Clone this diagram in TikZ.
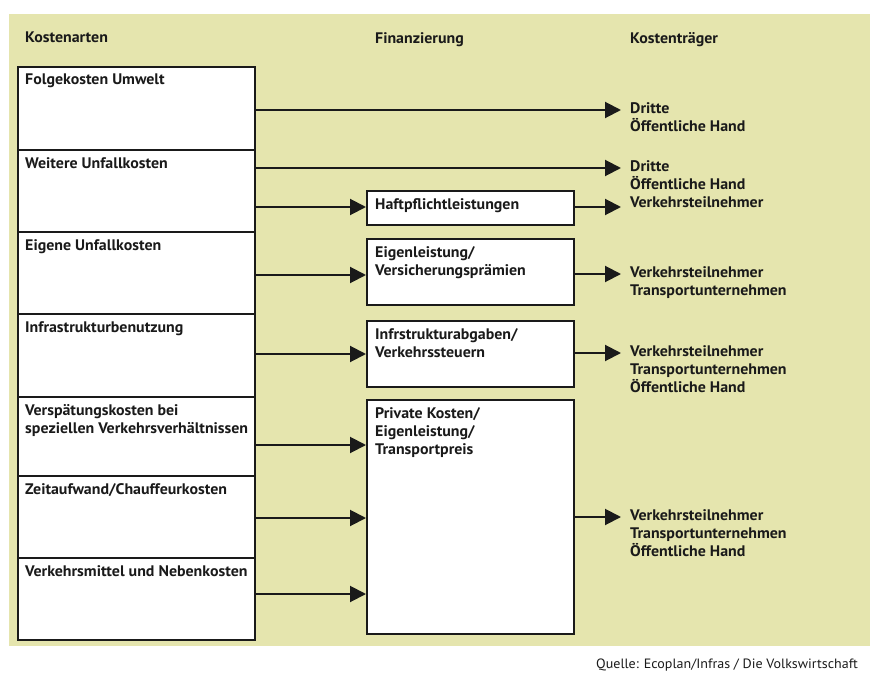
\documentclass[tikz,border=0pt]{standalone}
\usepackage{fontspec}
\setmainfont{PT Sans}[FakeStretch=1.04]
\usetikzlibrary{arrows.meta}
\definecolor{bg}{RGB}{229,229,174}
\definecolor{ink}{RGB}{26,26,26}
\begin{document}
\begin{tikzpicture}[x=1pt,y=-1pt,
  box/.style={draw=ink, line width=2pt, fill=white, inner sep=0pt, anchor=north west},
  lbl/.style={anchor=north west, inner sep=0pt, align=left, text=ink,
              font=\bfseries\fontsize{15.3}{18.2}\selectfont},
  arr/.style={draw=ink, line width=2pt, -{Triangle[length=16pt,width=16pt]}},
]
\useasboundingbox (0,0) rectangle (870,674);
\clip (0,0) rectangle (870,674);
\fill[bg] (9,14) rectangle (880,646);

% headers
\node[lbl] (h1) at (25,32) {Kostenarten};
\node[lbl] (h2) at (375,32) {Finanzierung};
\node[lbl] (h3) at (630,32) {Kostenträger};

% left boxes
\node[box, minimum width=237pt, minimum height=83pt] (a1) at (17,66) {};
\node[box, minimum width=237pt, minimum height=82pt] (a2) at (17,149) {};
\node[box, minimum width=237pt, minimum height=82pt] (a3) at (17,231) {};
\node[box, minimum width=237pt, minimum height=83pt] (a4) at (17,313) {};
\node[box, minimum width=237pt, minimum height=79pt] (a5) at (17,396) {};
\node[box, minimum width=237pt, minimum height=82pt] (a6) at (17,475) {};
\node[box, minimum width=237pt, minimum height=82pt] (a7) at (17,557) {};
\node[lbl] (ta1) at (25,74) {Folgekosten Umwelt};
\node[lbl] (ta2) at (25,157) {Weitere Unfallkosten};
\node[lbl] (ta3) at (25,239) {Eigene Unfallkosten};
\node[lbl] (ta4) at (25,321) {Infrastrukturbenutzung};
\node[lbl] (ta5) at (25,404) {Verspätungskosten bei\\speziellen Verkehrsverhältnissen};
\node[lbl] (ta6) at (25,483) {Zeitaufwand/Chauffeurkosten};
\node[lbl] (ta7) at (25,565) {Verkehrsmittel und Nebenkosten};

% middle boxes
\node[box, minimum width=207pt, minimum height=34pt] (m1) at (366,190) {};
\node[box, minimum width=207pt, minimum height=66pt] (m2) at (366,238) {};
\node[box, minimum width=207pt, minimum height=66pt] (m3) at (366,320) {};
\node[box, minimum width=207pt, minimum height=234pt] (m4) at (366,399) {};
\node[lbl] (tm1) at (375,198) {Haftpflichtleistungen};
\node[lbl] (tm2) at (375,246) {Eigenleistung/\\Versicherungsprämien};
\node[lbl] (tm3) at (375,328) {Infrstrukturabgaben/\\Verkehrssteuern};
\node[lbl] (tm4) at (375,407) {Private Kosten/\\Eigenleistung/\\Transportpreis};

% right texts
\node[lbl] (r1) at (630,102) {Dritte\\Öffentliche Hand};
\node[lbl] (r2) at (630,160) {Dritte\\Öffentliche Hand\\Verkehrsteilnehmer};
\node[lbl] (r3) at (630,266) {Verkehrsteilnehmer\\Transportunternehmen};
\node[lbl] (r4) at (630,345) {Verkehrsteilnehmer\\Transportunternehmen\\Öffentliche Hand};
\node[lbl] (r5) at (630,509) {Verkehrsteilnehmer\\Transportunternehmen\\Öffentliche Hand};

\coordinate (e1) at (621,110);
\coordinate (e2) at (621,168);
\coordinate (e2b) at (621,207);
\coordinate (e3) at (621,274);
\coordinate (e4) at (621,353);
\coordinate (e5) at (621,517);

% arrows
\draw[arr] (a1.east |- e1) -- (e1);
\draw[arr] (a2.east |- e2) -- (e2);
\draw[arr] (a2.east |- e2b) -- (m1.west |- e2b);
\draw[arr] (a3.east |- 0,275) -- (m2.west |- 0,275);
\draw[arr] (a4.east |- 0,354) -- (m3.west |- 0,354);
\draw[arr] (a5.east |- 0,445) -- (m4.west |- 0,445);
\draw[arr] (a6.east |- 0,518) -- (m4.west |- 0,518);
\draw[arr] (a7.east |- 0,594) -- (m4.west |- 0,594);
\draw[arr] (m1.east |- e2b) -- (e2b);
\draw[arr] (m2.east |- e3) -- (e3);
\draw[arr] (m3.east |- e4) -- (e4);
\draw[arr] (m4.east |- e5) -- (e5);

% source
\node[anchor=north west, inner sep=0pt, text=ink, font=\fontsize{13.5}{16}\selectfont] (src) at (596,659) {Quelle: Ecoplan/Infras / Die Volkswirtschaft};
\end{tikzpicture}
\end{document}
